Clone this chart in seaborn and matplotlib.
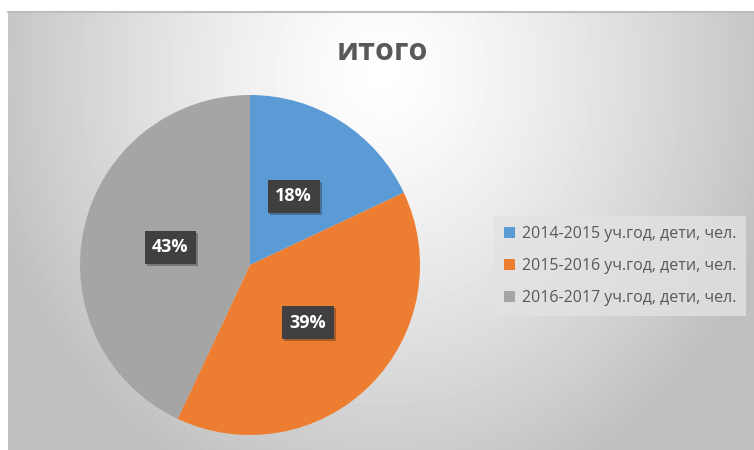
import numpy as np
import matplotlib
matplotlib.use('Agg')
import matplotlib.pyplot as plt
import matplotlib.patheffects as pe
from matplotlib.patches import Patch
import seaborn as sns

# data
labels = ['2014-2015 уч.год, дети, чел.', '2015-2016 уч.год, дети, чел.', '2016-2017 уч.год, дети, чел.']
shares = [18, 39, 43]
colors = ['#5B9BD5', '#ED7D31', '#A5A5A5']
title = 'итого'

sns.set_theme(style='white')
plt.rcParams['font.family'] = ['Open Sans', 'DejaVu Sans']

W, H = 754, 450
fig = plt.figure(figsize=(W / 100, H / 100), dpi=100)
fig.patch.set_facecolor('white')

# background with radial gradient (chart area)
bg = fig.add_axes([8 / W, 0, (W - 8) / W, (H - 12) / H])
yy, xx = np.mgrid[0:438, 0:746]
d = np.sqrt(((xx - 373) / 470) ** 2 + ((yy - 60) / 520) ** 2)
img = np.clip(1.0 - 0.30 * d ** 1.3, 0.75, 1.0)
bg.imshow(img, cmap='gray', vmin=0, vmax=1, aspect='auto', interpolation='bilinear')
bg.set_axis_off()
fig.add_artist(plt.Line2D([8 / W, 1], [1 - 12 / H, 1 - 12 / H], color='#bdbdbd', lw=1.5))

# pie
ax = fig.add_axes([80 / W, 15 / H, 340 / W, 340 / H])
wedges, texts, autotexts = ax.pie(shares, colors=colors, startangle=90, counterclock=False,
                                  autopct='%1.0f%%', pctdistance=0.48,
                                  wedgeprops=dict(linewidth=0),
                                  textprops=dict(color='white', fontsize=13, fontweight='bold'))
for t in autotexts:
    t.set_bbox(dict(boxstyle='square,pad=0.42', fc='#404040', ec='none'))
    t.get_bbox_patch().set_path_effects([pe.SimplePatchShadow(offset=(1.5, -1.5), alpha=0.3), pe.Normal()])
ax.set_xlim(-1, 1)
ax.set_ylim(-1, 1)
ax.set_aspect('equal')

fig.text(382 / W, 1 - 52 / H, title, ha='center', va='center', fontsize=22,
         fontweight='bold', color='#595959')

handles = [Patch(facecolor=c, edgecolor='none') for c in colors]
leg = fig.legend(handles, labels, loc='center', bbox_to_anchor=(620 / W, 1 - 266 / H),
                 frameon=True, fontsize=11.5, labelcolor='#595959', handlelength=0.7,
                 handleheight=0.7, handletextpad=0.4, labelspacing=1.0, borderpad=0.6,
                 fancybox=False)
leg.get_frame().set_facecolor('#e2e2e2')
leg.get_frame().set_edgecolor('none')
leg.get_frame().set_alpha(0.8)

fig.savefig('out.png', dpi=100)
